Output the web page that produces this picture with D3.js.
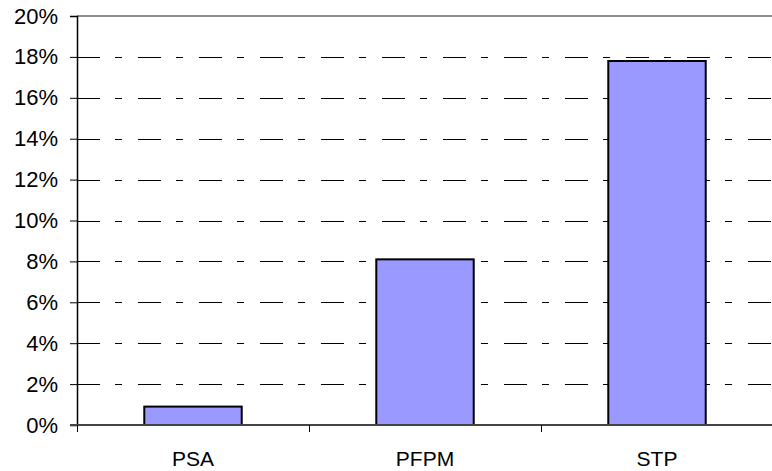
<!DOCTYPE html>
<html>
<head>
<meta charset="utf-8">
<script src="https://cdn.jsdelivr.net/npm/d3@7"></script>
<style>
  body { margin: 0; background: #fff; }
  text { font-family: "Liberation Sans", Arial, sans-serif; fill: #000; }
</style>
</head>
<body>
<svg id="chart" width="772" height="471"></svg>
<script>
// chart data
const categories = ["PSA", "PFPM", "STP"];
const values = [0.009, 0.081, 0.178];
const yTicks = [0, 0.02, 0.04, 0.06, 0.08, 0.10, 0.12, 0.14, 0.16, 0.18, 0.20];

// layout
const margin = { left: 77, top: 16, right: 0, bottom: 46 };
const width = 772, height = 471;
const plotW = 696, plotH = height - margin.top - margin.bottom;

const svg = d3.select("#chart");
const g = svg.append("g")
    .attr("transform", "translate(" + margin.left + "," + margin.top + ")");

const x = d3.scaleBand().domain(categories).range([0, plotW]).paddingInner(0.58).paddingOuter(0.29);
const y = d3.scaleLinear().domain([0, 0.2]).range([plotH, 0]);

// dashed gridlines
g.selectAll(".grid")
    .data(yTicks.filter(d => d > 0 && d < 0.2))
    .enter().append("line")
    .attr("x1", 0)
    .attr("x2", plotW)
    .attr("y1", d => Math.round(y(d)) + 0.5)
    .attr("y2", d => Math.round(y(d)) + 0.5)
    .attr("stroke", "#000")
    .attr("stroke-width", 1)
    .attr("stroke-dasharray", "23,15,7,16");

// top border of plot area
g.append("line")
    .attr("x1", 0).attr("x2", plotW)
    .attr("y1", 0).attr("y2", 0)
    .attr("stroke", "#8c8c8c")
    .attr("stroke-width", 2);

// bars
g.selectAll(".bar")
    .data(values)
    .enter().append("rect")
    .attr("x", (d, i) => x(categories[i]))
    .attr("y", d => y(d))
    .attr("width", x.bandwidth())
    .attr("height", d => plotH - y(d))
    .attr("fill", "#9999ff")
    .attr("stroke", "#000")
    .attr("stroke-width", 2);

// y axis
const yAxis = g.append("g")
    .call(d3.axisLeft(y).tickValues(yTicks).tickFormat(d3.format(".0%")).tickSize(7).tickPadding(12));
yAxis.select(".domain").attr("stroke", "#000").attr("stroke-width", 1.5);
yAxis.selectAll(".tick line").attr("stroke", "#000");
yAxis.selectAll("text")
    .style("font-size", "22px")
    .style("font-family", "'Liberation Sans', Arial, sans-serif");

// x axis with category separators
const xAxis = g.append("g")
    .attr("transform", "translate(0," + plotH + ")");
xAxis.append("line")
    .attr("x1", -7).attr("x2", plotW)
    .attr("y1", 0).attr("y2", 0)
    .attr("stroke", "#444")
    .attr("stroke-width", 2);
xAxis.selectAll(".sep")
    .data(categories)
    .enter().append("line")
    .attr("x1", (d, i) => i * plotW / categories.length + 0.5)
    .attr("x2", (d, i) => i * plotW / categories.length + 0.5)
    .attr("y1", 0).attr("y2", 7)
    .attr("stroke", "#000");
xAxis.selectAll(".lbl")
    .data(categories)
    .enter().append("text")
    .attr("x", d => x(d) + x.bandwidth() / 2)
    .attr("y", 41)
    .attr("text-anchor", "middle")
    .style("font-size", "21px")
    .text(d => d);
</script>
</body>
</html>
